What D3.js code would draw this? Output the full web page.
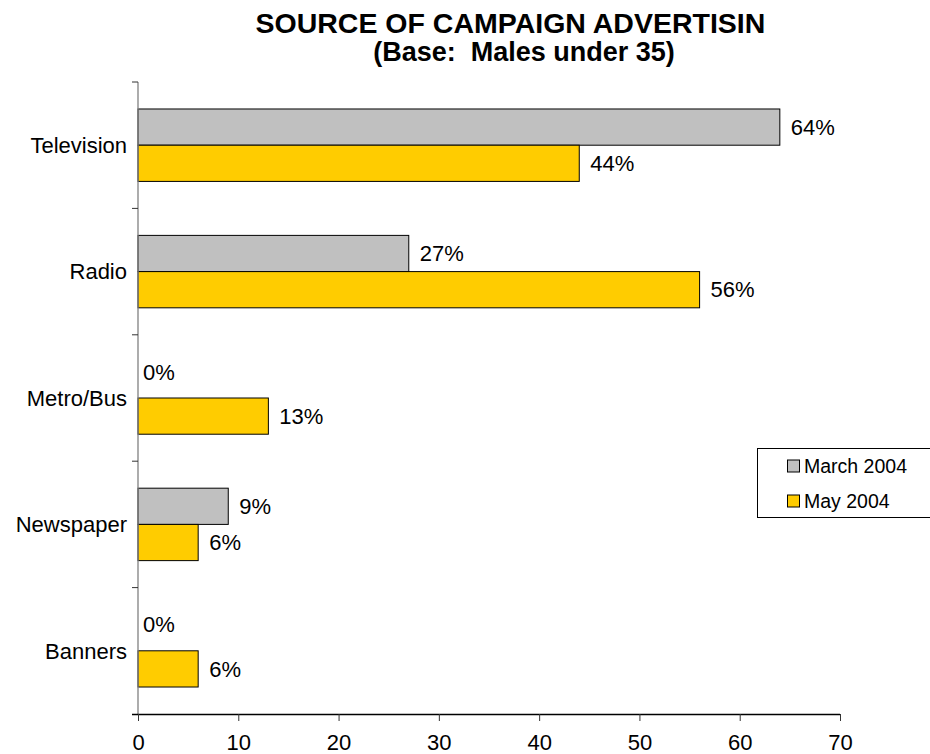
<!DOCTYPE html>
<html>
<head>
<meta charset="utf-8">
<script src="https://cdn.jsdelivr.net/npm/d3@7"></script>
<style>
  html, body { margin: 0; padding: 0; background: #fff; }
  svg { display: block; font-family: Arial, "Liberation Sans", sans-serif; }
</style>
</head>
<body>
<svg id="chart" width="930" height="754"></svg>
<script>
// Campaign advertising sources, males under 35
const categories = ["Television", "Radio", "Metro/Bus", "Newspaper", "Banners"];
const seriesNames = ["March 2004", "May 2004"];
const march2004 = [64, 27, 0, 9, 0];
const may2004 = [44, 56, 13, 6, 6];
const xTicks = [0, 10, 20, 30, 40, 50, 60, 70];
const titleLines = ["SOURCE OF CAMPAIGN ADVERTISING", "(Base:  Males under 35)"];

const colors = ["#C0C0C0", "#FFCC00"];
const svg = d3.select("#chart");

const plotLeft = 138, plotRight = 840, plotTop = 82, plotBottom = 714;

const x = d3.scaleLinear().domain([0, 70]).range([plotLeft, plotRight]);
const y = d3.scaleBand().domain(categories).range([plotTop, plotBottom]).paddingInner(0.427).paddingOuter(0.2135);
const ySub = d3.scaleBand().domain(seriesNames).range([0, y.bandwidth()]);

// Title (first line clipped at the chart area's right edge)
svg.append("clipPath").attr("id", "titleClip")
  .append("rect").attr("x", 0).attr("y", 0).attr("width", 766).attr("height", 40);
svg.append("text")
  .attr("clip-path", "url(#titleClip)")
  .attr("x", 521.5).attr("y", 33)
  .attr("text-anchor", "middle")
  .attr("font-size", 28.5).attr("font-weight", "bold")
  .text(titleLines[0]);
svg.append("text")
  .attr("x", 524).attr("y", 61)
  .attr("text-anchor", "middle")
  .attr("font-size", 27).attr("font-weight", "bold")
  .attr("xml:space", "preserve")
  .style("white-space", "pre")
  .text(titleLines[1]);

// Bars
const rows = categories.map((c, i) => ({ cat: c, vals: [march2004[i], may2004[i]] }));
const groups = svg.append("g").selectAll("g").data(rows).join("g")
  .attr("transform", d => `translate(0,${y(d.cat)})`);

groups.selectAll("rect")
  .data(d => d.vals.map((v, j) => ({ v, s: seriesNames[j], j })).filter(d => d.v > 0))
  .join("rect")
  .attr("x", x(0))
  .attr("y", d => ySub(d.s))
  .attr("width", d => x(d.v) - x(0))
  .attr("height", ySub.bandwidth())
  .attr("fill", d => colors[d.j])
  .attr("stroke", "#000")
  .attr("stroke-width", 1);

groups.selectAll("text.val")
  .data(d => d.vals.map((v, j) => ({ v, s: seriesNames[j], j })))
  .join("text")
  .attr("class", "val")
  .attr("x", d => x(d.v) + (d.v === 0 ? 5 : 11))
  .attr("y", d => ySub(d.s) + ySub.bandwidth() / 2 + (d.v === 0 ? -8 : 0))
  .attr("dy", "0.35em")
  .attr("font-size", 22)
  .text(d => d.v + "%");

// Y axis (category)
const yAxisG = svg.append("g");
yAxisG.append("line")
  .attr("x1", plotLeft).attr("x2", plotLeft).attr("y1", plotTop).attr("y2", plotBottom)
  .attr("stroke", "#808080").attr("stroke-width", 1.3);
const catTicks = [plotTop].concat(categories.slice(1).map(c => y(c) - (y.step() - y.bandwidth()) / 2));
yAxisG.selectAll("line.tick").data(catTicks)
  .join("line").attr("class", "tick")
  .attr("x1", plotLeft - 6).attr("x2", plotLeft).attr("y1", d => d).attr("y2", d => d)
  .attr("stroke", "#333").attr("stroke-width", 1);
yAxisG.selectAll("text").data(categories).join("text")
  .attr("x", 127)
  .attr("y", d => y(d) + y.bandwidth() / 2)
  .attr("dy", "0.35em")
  .attr("text-anchor", "end")
  .attr("font-size", 22)
  .text(d => d);

// X axis
const xAxis = d3.axisBottom(x).tickValues(xTicks).tickSize(7).tickPadding(13).tickSizeOuter(0);
const xg = svg.append("g").attr("transform", `translate(0,${plotBottom})`).call(xAxis);
xg.select(".domain").attr("stroke", "#000").attr("stroke-width", 1.3)
  .attr("d", `M${plotLeft - 6},0.5H${plotRight}`);
xg.selectAll(".tick line").attr("stroke", "#333");
xg.selectAll(".tick text").attr("font-size", 22).attr("font-family", "Arial, 'Liberation Sans', sans-serif").attr("fill", "#000");

// Legend
const lg = svg.append("g");
lg.append("rect").attr("x", 757.5).attr("y", 448.5).attr("width", 190).attr("height", 69)
  .attr("fill", "#fff").attr("stroke", "#000").attr("stroke-width", 1);
seriesNames.forEach((name, i) => {
  const cy = 466 + i * 35;
  lg.append("rect").attr("x", 787.5).attr("y", cy - 6).attr("width", 12).attr("height", 12)
    .attr("fill", colors[i]).attr("stroke", "#000").attr("stroke-width", 1);
  lg.append("text").attr("x", 804).attr("y", cy).attr("dy", "0.35em")
    .attr("font-size", 19.5).text(name);
});
</script>
</body>
</html>
